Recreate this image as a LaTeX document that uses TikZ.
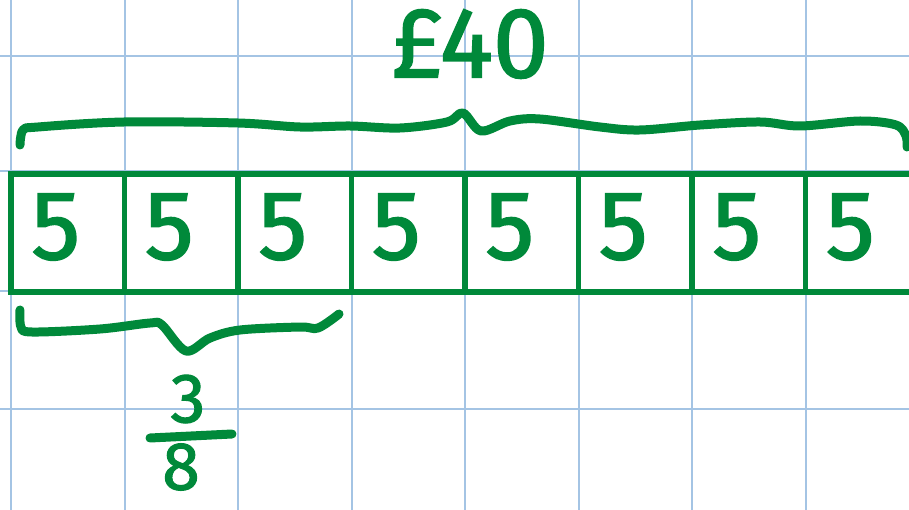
\documentclass[tikz,border=0pt]{standalone}
\usepackage{fontspec}
\setmainfont{Fira Sans}
\newfontfamily\handfont{Fira Sans}[FakeBold=1.6]
\usetikzlibrary{
    positioning,
    calc
}
\definecolor{penGreen}{RGB}{0,137,58}
\definecolor{gridBlue}{RGB}{164,196,228}
\tikzset{
  cell/.style     = {draw=penGreen, line width=5.5pt, minimum width=113.5pt,
                     minimum height=118pt, inner sep=0pt},
  digit/.style    = {text=penGreen, inner sep=0pt,
                     font=\fontsize{98}{98}\handfont},
  hand/.style     = {text=penGreen, inner sep=0pt},
  ink/.style      = {penGreen, line width=9pt, line cap=round, line join=round},
  gridline/.style = {gridBlue, line width=2pt}
}

\begin{document}
\begin{tikzpicture}[x=1pt, y=-1pt]

\useasboundingbox (0,0) rectangle (909,510);
\clip (0,0) rectangle (909,510);

% --- SQUARED PAPER ---
\foreach \gx in {0,...,7}
  \draw[gridline] ({11+113.5*\gx},0) -- ({11+113.5*\gx},510);
\foreach \gy in {56,171,291,409}
  \draw[gridline] (0,\gy) -- (909,\gy);

% --- BAR OF EIGHT CELLS ---
\foreach \i in {1,...,8}{
  \node[cell] (c\i) at ({11+113.5*(\i-0.5)},233) {};
  \node[digit] (d\i) at ([xshift=-12pt,yshift=6pt]c\i.center) {5};
}

% --- WHOLE AMOUNT ---
\node[hand, font=\fontsize{100}{100}\handfont] (total) at (470,44) {£40};

\draw[ink] plot[smooth, tension=0.55] coordinates {
  (20,145) (23,130) (38,127) (124,122) (238,123) (300,127) (350,126)
  (400,128) (447,122) (463,113) (481,131) (510,121) (540,119) (600,127)
  (640,130) (700,125) (760,122) (800,126) (860,121) (896,125) (906,136)
  (907,147)};

% --- THREE EIGHTHS ---
\draw[ink] plot[smooth, tension=0.55] coordinates {
  (20,310) (21,327) (32,332) (100,329) (150,323) (162,325) (186,351)
  (210,338) (240,330) (300,327) (318,328) (339,314)};

\node[hand, font=\fontsize{70}{70}\handfont] (num) at (188,399) {3};
\node[hand, font=\fontsize{68}{68}\handfont] (den) at (181,467) {8};
\coordinate (barL) at (150,438);
\coordinate (barR) at (232,434);
\draw[ink] (barL) -- (barR);

\end{tikzpicture}
\end{document}
